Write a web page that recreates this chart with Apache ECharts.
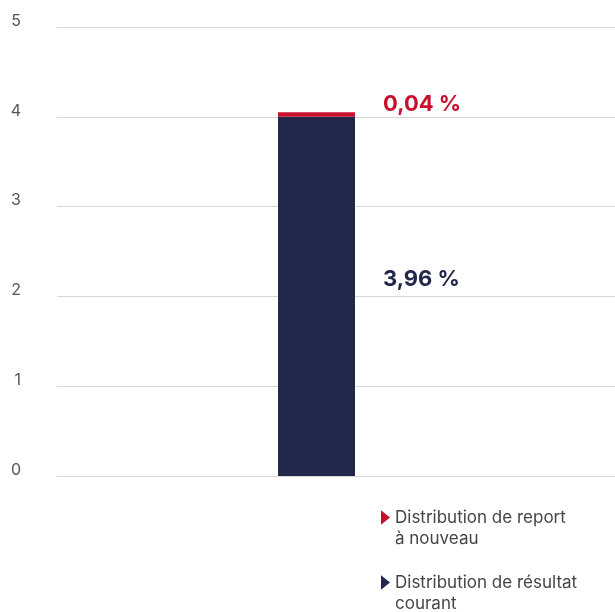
<!DOCTYPE html>
<html>
<head>
<meta charset="utf-8">
<script src="https://cdn.jsdelivr.net/npm/echarts@6/dist/echarts.min.js"></script>
<style>
  html, body { margin: 0; padding: 0; background: #fff; }
  #chart { width: 615px; height: 612px; }
</style>
</head>
<body>
<div id="chart"></div>
<script>
// data
var categories = ["Dividende"];
var seriesNames = ["Distribution de résultat courant", "Distribution de report à nouveau"];
var courantValues = [4.0];
var reportValues = [0.05];
var valueLabels = ["3,96 %", "0,04 %"];
var legendLines = {
  "Distribution de report à nouveau": "Distribution de report\nà nouveau",
  "Distribution de résultat courant": "Distribution de résultat\ncourant"
};
var yTicks = [0, 1, 2, 3, 4, 5];

var NAVY = "#22284b";
var RED = "#c8102e";
var FONT = "Inter";

var chart = echarts.init(document.getElementById("chart"));
chart.setOption({
  animation: false,
  textStyle: { fontFamily: FONT },
  grid: [
    { left: 57, right: 0, top: 27, bottom: 136 }, // grid lines
    { left: 57, right: 39, top: 27, bottom: 136 } // bar
  ],
  xAxis: [
    { gridIndex: 0, type: "category", data: categories, show: false },
    { gridIndex: 1, type: "category", data: categories, show: false }
  ],
  yAxis: [
    {
      gridIndex: 0,
      type: "value",
      min: yTicks[0],
      max: yTicks[yTicks.length - 1],
      interval: 1,
      axisLine: { show: false },
      axisTick: { show: false },
      axisLabel: {
        color: "#555", fontSize: 16, margin: 36,
        verticalAlign: "bottom", lineHeight: 12
      },
      splitLine: { lineStyle: { color: "#d6d6d6", width: 1 } }
    },
    {
      gridIndex: 1,
      type: "value",
      min: yTicks[0],
      max: yTicks[yTicks.length - 1],
      show: false,
      splitLine: { show: false }
    }
  ],
  legend: {
    orient: "vertical",
    left: 376,
    top: 481,
    height: 131,
    itemGap: 2,
    itemWidth: 9,
    itemHeight: 15,
    icon: "path://M0,0 L10,8 L0,16 Z",
    data: [seriesNames[1], seriesNames[0]],
    formatter: function (name) { return "\n" + legendLines[name]; },
    textStyle: { color: "#444", fontSize: 17, lineHeight: 21 }
  },
  series: [
    {
      name: seriesNames[0],
      type: "bar",
      xAxisIndex: 1,
      yAxisIndex: 1,
      stack: "total",
      barWidth: 77,
      itemStyle: { color: NAVY },
      data: courantValues,
      label: {
        show: true,
        position: "right",
        distance: 28,
        offset: [0, -17],
        formatter: function () { return valueLabels[0]; },
        color: NAVY,
        fontSize: 22,
        fontWeight: "bold"
      }
    },
    {
      name: seriesNames[1],
      type: "bar",
      xAxisIndex: 1,
      yAxisIndex: 1,
      stack: "total",
      barWidth: 77,
      itemStyle: { color: RED },
      data: reportValues,
      label: {
        show: true,
        position: "right",
        distance: 28,
        offset: [0, -10],
        formatter: function () { return valueLabels[1]; },
        color: RED,
        fontSize: 22,
        fontWeight: "bold"
      }
    }
  ]
});
</script>
</body>
</html>
